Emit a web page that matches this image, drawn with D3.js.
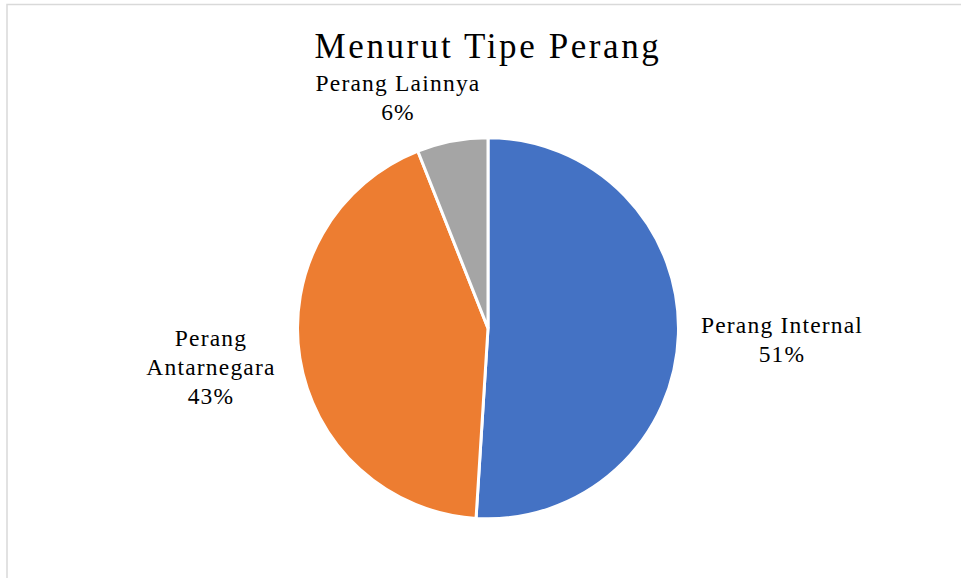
<!DOCTYPE html>
<html>
<head>
<meta charset="utf-8">
<script src="https://cdn.jsdelivr.net/npm/d3@7"></script>
<style>
  body { margin: 0; background: #fff; }
  text { font-family: "Palatino Linotype", "Book Antiqua", Palatino, "Liberation Serif", serif; fill: #000; }
</style>
</head>
<body>
<div class="board"></div>
<script>
// data
var categories = ['Perang Internal', 'Perang Antarnegara', 'Perang Lainnya'];
var values = [51, 43, 6];
var colors = ['#4472C4', '#ED7D31', '#A5A5A5'];
// label lines per slice (wrapped like the original)
var labelLines = [['Perang Internal'], ['Perang', 'Antarnegara'], ['Perang Lainnya']];
var labelPos = [[782, 333], [211, 346], [398, 91]];

var W = 961, H = 578;
var cx = 488, cy = 328.3, R = 190.5;

var svg = d3.select('.board')
  .append('svg')
  .attr('width', W)
  .attr('height', H);

// chart border
svg.append('rect')
  .attr('x', 7)
  .attr('y', 4.5)
  .attr('width', W + 20)
  .attr('height', H + 20)
  .style('fill', 'none')
  .style('stroke', '#d9d9d9')
  .style('stroke-width', 1.5);

svg.append('text')
  .attr('x', cx)
  .attr('y', 58)
  .attr('text-anchor', 'middle')
  .style('font-size', '35px')
  .style('letter-spacing', '2.6px')
  .text('Menurut Tipe Perang');

var pie = d3.pie().sort(null).value(function(d) { return d; });
var arc = d3.arc().innerRadius(0).outerRadius(R);
var arcs = pie(values);

var g = svg.append('g').attr('transform', 'translate(' + cx + ',' + cy + ')');

g.selectAll('path')
  .data(arcs)
  .enter()
  .append('path')
  .attr('d', arc)
  .style('fill', function(d, i) { return colors[i]; })
  .style('stroke', '#fff')
  .style('stroke-width', 3);

// data labels
var total = d3.sum(values);
var labels = svg.selectAll('.lbl')
  .data(arcs)
  .enter()
  .append('text')
  .attr('class', 'lbl')
  .attr('text-anchor', 'middle')
  .style('font-size', '23.5px')
  .style('letter-spacing', '1.2px');

labels.each(function(d, i) {
  var t = d3.select(this);
  var lines = labelLines[i].concat([Math.round(d.value / total * 100) + '%']);
  lines.forEach(function(s, j) {
    t.append('tspan')
      .attr('x', labelPos[i][0])
      .attr('y', labelPos[i][1] + j * 29)
      .text(s);
  });
});
</script>
</body>
</html>
